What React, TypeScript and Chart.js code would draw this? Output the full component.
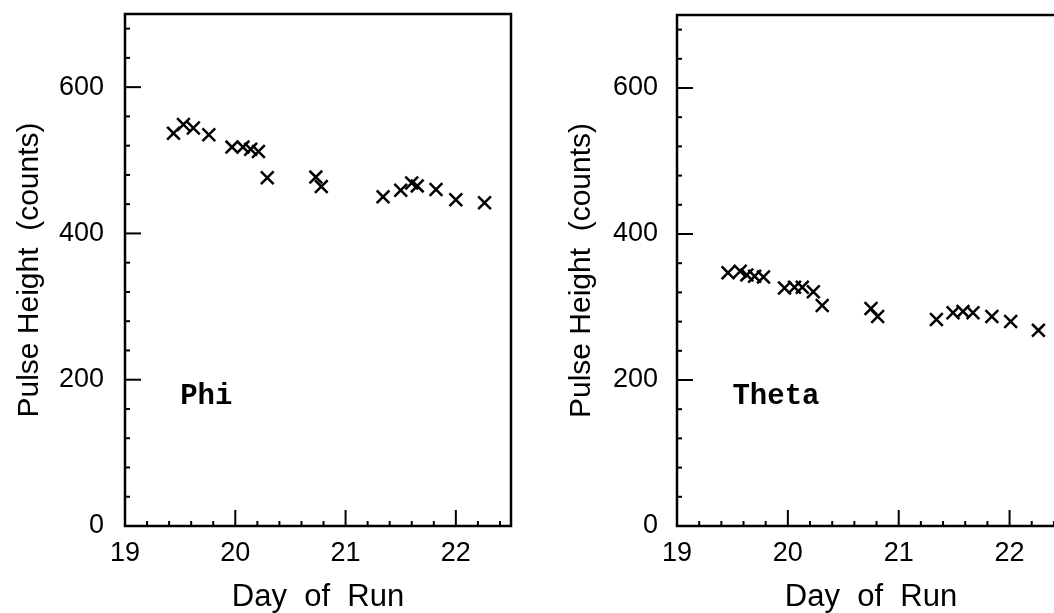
import React, { useEffect, useRef } from "react";
import { Chart, registerables } from "chart.js";

Chart.register(...registerables);

const phiDays = [19.44, 19.53, 19.62, 19.76, 19.97, 20.07, 20.14, 20.21, 20.29, 20.73, 20.78, 21.34, 21.5, 21.6, 21.65, 21.82, 22.0, 22.26];
const phiValues = [537, 549, 544, 535, 518, 518, 515, 512, 476, 477, 464, 450, 459, 469, 465, 460, 446, 442];
const thetaDays = [19.46, 19.57, 19.63, 19.7, 19.78, 19.97, 20.06, 20.13, 20.23, 20.31, 20.75, 20.81, 21.34, 21.49, 21.58, 21.67, 21.84, 22.01, 22.26];
const thetaValues = [347, 349, 344, 342, 341, 326, 327, 327, 321, 302, 298, 287, 283, 292, 294, 292, 287, 280, 268];
const xTickLabels = [19, 20, 21, 22];
const yTickLabels = [0, 200, 400, 600];
const xMinorStep = 0.2;
const yMinorStep = 40;

const SANS = "'Liberation Sans', Arial, sans-serif";
const MONO = "'Liberation Mono', 'Courier New', monospace";

type PanelOpts = {
  label: string;
  yAxisWidth: number;
  padTop: number;
  padRight: number;
  yTickPad: number;
  yTitlePad: number;
};

function framePlugin(label: string) {
  return {
    id: "frame-" + label,
    afterDraw(chart: any) {
      const { ctx, chartArea } = chart;
      const xs = chart.scales.x;
      const ys = chart.scales.y;
      const { left, right, top, bottom } = chartArea;
      ctx.save();
      ctx.strokeStyle = "#000";
      ctx.lineWidth = 2.5;
      ctx.strokeRect(left, top, right - left, bottom - top);
      ctx.lineWidth = 2;
      const nx = Math.floor((xs.max - xs.min) / xMinorStep + 1e-6);
      for (let i = 1; i <= nx; i++) {
        const v = xs.min + i * xMinorStep;
        if (v >= xs.max - 1e-6) continue;
        const major = Math.abs(v - Math.round(v)) < 1e-6;
        const px = xs.getPixelForValue(v);
        ctx.beginPath();
        ctx.moveTo(px, bottom);
        ctx.lineTo(px, bottom - (major ? 16 : 5));
        ctx.stroke();
      }
      const ny = Math.floor((ys.max - ys.min) / yMinorStep + 1e-6);
      for (let i = 1; i <= ny; i++) {
        const v = ys.min + i * yMinorStep;
        if (v >= ys.max) continue;
        const major = v % 200 === 0;
        const py = ys.getPixelForValue(v);
        ctx.beginPath();
        ctx.moveTo(left, py);
        ctx.lineTo(left + (major ? 16 : 5), py);
        ctx.stroke();
      }
      ctx.fillStyle = "#000";
      ctx.font = "bold 29px " + MONO;
      ctx.textAlign = "left";
      ctx.textBaseline = "middle";
      ctx.fillText(label, xs.getPixelForValue(19.5), ys.getPixelForValue(177));
      ctx.restore();
    },
  };
}

function makeConfig(days: number[], values: number[], o: PanelOpts): any {
  return {
    type: "scatter",
    data: {
      datasets: [
        {
          data: days.map((d, i) => ({ x: d, y: values[i] })),
          pointStyle: "crossRot",
          pointRadius: 9,
          pointBorderWidth: 2.5,
          borderColor: "#000",
          backgroundColor: "#000",
          showLine: false,
        },
      ],
    },
    options: {
      animation: false,
      responsive: false,
      events: [],
      layout: { padding: { top: o.padTop, right: o.padRight, left: 0, bottom: 0 } },
      plugins: { legend: { display: false }, tooltip: { enabled: false } },
      scales: {
        x: {
          type: "linear",
          min: 19,
          max: 22.5,
          grid: { display: false, drawTicks: false },
          border: { display: false },
          afterBuildTicks: (s: any) => {
            s.ticks = xTickLabels.map((v) => ({ value: v }));
          },
          afterFit: (s: any) => {
            s.height = 87;
            s.paddingLeft = 0;
            s.paddingRight = 0;
          },
          ticks: {
            font: { family: SANS, size: 27 },
            color: "#000",
            padding: 11,
            maxRotation: 0,
            autoSkip: false,
            callback: (v: any) => String(v),
          },
          title: {
            display: true,
            text: "Day  of  Run",
            color: "#000",
            font: { family: SANS, size: 31, lineHeight: 1 },
            padding: { top: 0, bottom: 0 },
          },
        },
        y: {
          type: "linear",
          min: 0,
          max: 700,
          grid: { display: false, drawTicks: false },
          border: { display: false },
          afterBuildTicks: (s: any) => {
            s.ticks = yTickLabels.map((v) => ({ value: v }));
          },
          afterFit: (s: any) => {
            s.width = o.yAxisWidth;
            s.paddingTop = 0;
            s.paddingBottom = 0;
          },
          ticks: {
            font: { family: SANS, size: 27 },
            color: "#000",
            padding: o.yTickPad,
            autoSkip: false,
            callback: (v: any) => String(v),
          },
          title: {
            display: true,
            text: "Pulse Height  (counts)",
            color: "#000",
            font: { family: SANS, size: 30, lineHeight: 1 },
            padding: { top: o.yTitlePad, bottom: 0 },
          },
        },
      },
    },
    plugins: [framePlugin(o.label)],
  };
}

export default function App() {
  const leftRef = useRef<HTMLCanvasElement | null>(null);
  const rightRef = useRef<HTMLCanvasElement | null>(null);

  useEffect(() => {
    const c1 = new Chart(
      leftRef.current as HTMLCanvasElement,
      makeConfig(phiDays, phiValues, {
        label: "Phi",
        yAxisWidth: 125,
        padTop: 14,
        padRight: 29,
        yTickPad: 21,
        yTitlePad: 15,
      })
    );
    const c2 = new Chart(
      rightRef.current as HTMLCanvasElement,
      makeConfig(thetaDays, thetaValues, {
        label: "Theta",
        yAxisWidth: 137,
        padTop: 15,
        padRight: 35,
        yTickPad: 19,
        yTitlePad: 27,
      })
    );
    return () => {
      c1.destroy();
      c2.destroy();
    };
  }, []);

  return (
    <div
      style={{
        position: "fixed",
        left: 0,
        top: 0,
        width: 1054,
        height: 613,
        overflow: "hidden",
        background: "#fff",
      }}
    >
      <canvas ref={leftRef} width={540} height={613} style={{ position: "absolute", left: 0, top: 0, width: 540, height: 613 }} />
      <canvas ref={rightRef} width={560} height={613} style={{ position: "absolute", left: 540, top: 0, width: 560, height: 613 }} />
    </div>
  );
}
